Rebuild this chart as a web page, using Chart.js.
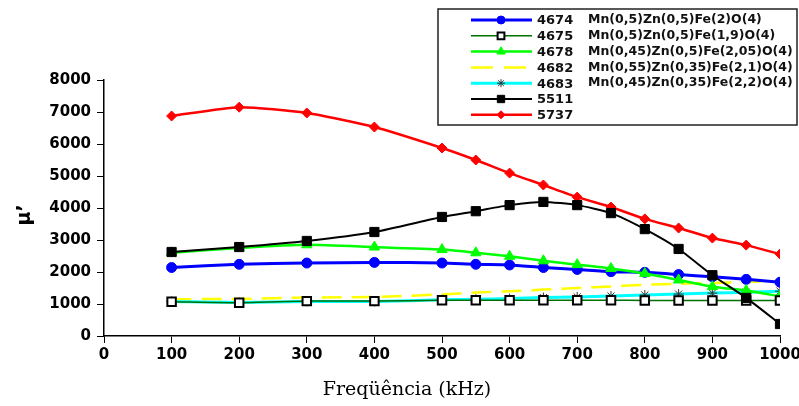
<!DOCTYPE html>
<html>
<head>
<meta charset="utf-8">
<script src="https://cdn.jsdelivr.net/npm/chart.js@4.4.0/dist/chart.umd.min.js"></script>
<style>
  html, body { margin: 0; padding: 0; background: #fff; }
  #wrap { width: 799px; height: 406px; }
</style>
</head>
<body>
<div id="wrap"><canvas id="chart" width="799" height="406"></canvas></div>
<script>
// Frequency points (kHz)
const FREQ = [100, 200, 300, 400, 500, 550, 600, 650, 700, 750, 800, 850, 900, 950, 1000];

// mu' values
const S4674 = [2140, 2240, 2280, 2300, 2280, 2240, 2220, 2140, 2080, 2010, 1990, 1920, 1850, 1770, 1680];
const S4675 = [1070, 1040, 1090, 1090, 1120, 1120, 1120, 1120, 1120, 1120, 1110, 1110, 1110, 1110, 1110];
const S4678 = [2600, 2750, 2850, 2780, 2700, 2600, 2490, 2350, 2230, 2110, 1950, 1750, 1540, 1420, 1240];
const S4682 = [1150, 1160, 1200, 1220, 1300, 1360, 1400, 1450, 1500, 1550, 1600, 1630, 1660, 1690, 1720];
const S4683 = [1080, 1050, 1080, 1080, 1130, 1150, 1170, 1200, 1220, 1250, 1280, 1310, 1340, 1370, 1400];
const S5511 = [2625, 2780, 2970, 3250, 3720, 3900, 4090, 4190, 4090, 3840, 3340, 2720, 1900, 1190, 375];
const S5737 = [6875, 7150, 6970, 6530, 5875, 5500, 5090, 4720, 4340, 4030, 3660, 3375, 3060, 2840, 2560];

const LABELS = ['4674', '4675', '4678', '4682', '4683', '5511', '5737'];
const FORMULAS = [
    'Mn(0,5)Zn(0,5)Fe(2)O(4)',
    'Mn(0,5)Zn(0,5)Fe(1,9)O(4)',
    'Mn(0,45)Zn(0,5)Fe(2,05)O(4)',
    'Mn(0,55)Zn(0,35)Fe(2,1)O(4)',
    'Mn(0,45)Zn(0,35)Fe(2,2)O(4)',
    '',
    ''
];

const TICK_FONT = { family: 'DejaVu Sans', size: 15, weight: 'bold' };

function pts(values) {
    return FREQ.map((f, i) => ({ x: f, y: values[i] }));
}

// style per series: line colour, width, point style, point colours, dash
const STYLES = [
    { color: '#0000ff', width: 3, point: 'circle', radius: 5, fill: '#0000ff', stroke: '#0000ff', order: 4 },
    { color: '#007000', width: 1.5, point: 'rect', radius: 6, fill: '#ffffff', stroke: '#000000', pbw: 2, order: 2 },
    { color: '#00ff00', width: 2.5, point: 'triangle', radius: 6, fill: '#00ff00', stroke: '#00ff00', order: 3 },
    { color: '#ffff00', width: 2.5, point: false, radius: 0, dash: [20, 10], order: 6 },
    { color: '#00ffff', width: 3, point: 'star', radius: 5, fill: '#333333', stroke: '#333333', order: 5 },
    { color: '#000000', width: 2, point: 'rect', radius: 6.5, fill: '#000000', stroke: '#000000', order: 0 },
    { color: '#ff0000', width: 2.5, point: 'rectRot', radius: 5, fill: '#ff0000', stroke: '#ff0000', order: 1 }
];

const SERIES = [S4674, S4675, S4678, S4682, S4683, S5511, S5737];

const datasets = SERIES.map((s, i) => {
    const st = STYLES[i];
    return {
        label: LABELS[i],
        data: pts(s),
        borderColor: st.color,
        borderWidth: st.width,
        borderDash: st.dash || [],
        tension: 0.2,
        pointStyle: st.point,
        pointRadius: st.radius,
        pointBackgroundColor: st.fill,
        pointBorderColor: st.stroke,
        pointBorderWidth: st.pbw || 1,
        order: st.order
    };
});

// legend box and axis titles drawn on top
const decorPlugin = {
    id: 'decor',
    afterDraw(chart) {
        const ctx = chart.ctx;
        ctx.save();

        // axis titles
        ctx.fillStyle = '#000';
        ctx.font = '19px "DejaVu Serif"';
        ctx.textAlign = 'center';
        ctx.textBaseline = 'middle';
        ctx.fillText('Freqüência (kHz)', 407, 390);

        ctx.translate(25, 215);
        ctx.rotate(-Math.PI / 2);
        ctx.font = 'bold 19px "DejaVu Sans"';
        ctx.fillText('\u03bc\u2019', 0, 0);
        ctx.setTransform(1, 0, 0, 1, 0, 0);

        // legend
        const bx = 438, by = 9, bw = 359, bh = 116;
        ctx.fillStyle = '#fff';
        ctx.fillRect(bx, by, bw, bh);
        ctx.strokeStyle = '#222';
        ctx.lineWidth = 1.5;
        ctx.strokeRect(bx, by, bw, bh);

        for (let i = 0; i < LABELS.length; i++) {
            const st = STYLES[i];
            const y = 20 + i * 15.8;
            ctx.beginPath();
            ctx.strokeStyle = st.color;
            ctx.lineWidth = st.width;
            ctx.setLineDash(st.dash ? [22, 11] : []);
            ctx.moveTo(471, y);
            ctx.lineTo(532, y);
            ctx.stroke();
            ctx.setLineDash([]);
            if (st.point) {
                ctx.fillStyle = st.fill;
                ctx.strokeStyle = st.stroke;
                ctx.lineWidth = st.pbw || 1;
                Chart.helpers.drawPoint(ctx, {
                    pointStyle: st.point,
                    radius: st.radius * 0.8,
                    rotation: 0,
                    borderWidth: st.pbw || 1
                }, 501, y);
            }
            ctx.fillStyle = '#111';
            ctx.textAlign = 'left';
            ctx.textBaseline = 'middle';
            ctx.font = 'bold 13px "DejaVu Sans"';
            ctx.fillText(LABELS[i], 537, y + 1);
            if (FORMULAS[i]) {
                ctx.font = 'bold 12.5px "DejaVu Sans"';
                ctx.fillText(FORMULAS[i], 588, y);
            }
        }
        ctx.restore();
    }
};

new Chart(document.getElementById('chart').getContext('2d'), {
    type: 'line',
    data: { datasets: datasets },
    options: {
        responsive: false,
        animation: false,
        layout: { padding: { top: 80, right: 19, left: 0, bottom: 0 } },
        scales: {
            x: {
                type: 'linear',
                min: 0,
                max: 1000,
                ticks: { stepSize: 100, color: '#000', font: TICK_FONT, padding: 3, maxRotation: 0,
                         callback: v => String(v) },
                grid: { drawOnChartArea: false, tickLength: 7, color: '#000' },
                border: { color: '#000', width: 1.5 },
                afterFit(s) { s.height = 70; s.paddingLeft = 0; s.paddingRight = 0; }
            },
            y: {
                min: 0,
                max: 8000,
                ticks: { stepSize: 1000, color: '#000', font: TICK_FONT, padding: 6,
                         callback: v => String(v) },
                grid: { drawOnChartArea: false, tickLength: 7, color: '#000' },
                border: { color: '#000', width: 1.5 },
                afterFit(s) { s.width = 104; s.paddingTop = 0; s.paddingBottom = 0; }
            }
        },
        plugins: {
            legend: { display: false },
            tooltip: { enabled: false }
        }
    },
    plugins: [decorPlugin]
});
</script>
</body>
</html>
